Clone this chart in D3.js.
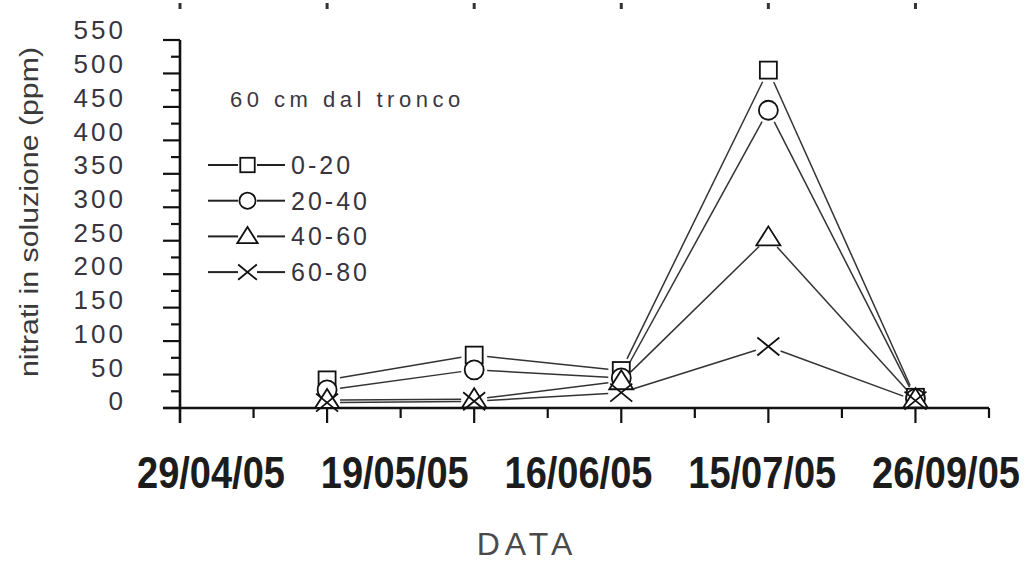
<!DOCTYPE html>
<html>
<head>
<meta charset="utf-8">
<script src="https://cdn.jsdelivr.net/npm/d3@7"></script>
<style>
  html, body { margin: 0; padding: 0; background: #fff; }
  svg { display: block; }
  text { font-family: "Liberation Sans", Arial, sans-serif; }
</style>
</head>
<body>
<div id="chart"></div>
<script>
// Sampling dates (axis labels)
const dates = ["29/04/05", "19/05/05", "16/06/05", "15/07/05", "26/09/05"];
// Sampling positions along the x axis (one per sample)
const samplePos = [1, 2, 3, 4, 5];
// Nitrate in soil solution (ppm) by depth layer (cm), 60 cm from the trunk
const depths = ["0-20", "20-40", "40-60", "60-80"];
const v0_20  = [42, 79, 56, 505, 16];
const v20_40 = [27, 57, 45, 445, 14];
const v40_60 = [12, 13, 40, 255, 13];
const v60_80 = [8, 10, 23, 92, 11];
const yTicks = [0, 50, 100, 150, 200, 250, 300, 350, 400, 450, 500, 550];
const legendTitle = "60 cm dal tronco";
const yTitle = "nitrati in soluzione (ppm)";
const xTitle = "DATA";

const series = [
  { name: depths[0], values: v0_20,  symbol: "square" },
  { name: depths[1], values: v20_40, symbol: "circle" },
  { name: depths[2], values: v40_60, symbol: "triangle" },
  { name: depths[3], values: v60_80, symbol: "cross" }
];

const W = 1028, H = 562;
const svg = d3.select("#chart").append("svg").attr("width", W).attr("height", H);

const x = d3.scaleLinear().domain([0, 5.5]).range([180, 989]);
const y = d3.scaleLinear().domain([0, 550]).range([408, 40]);
const yLab = d3.scaleLinear().domain([0, 550]).range([401, 30]);
const xLab = d3.scalePoint().domain(dates).range([211, 946]);

const ink = "#111";
const lineInk = "#333";

// stray tick marks along the top edge
svg.append("g").selectAll("line").data(d3.range(0, 6)).join("line")
  .attr("x1", d => x(d)).attr("x2", d => x(d))
  .attr("y1", 3).attr("y2", 9)
  .attr("stroke", "#333").attr("stroke-width", 3);

// y axis: line, major and minor ticks
const ax = svg.append("g");
ax.append("line").attr("x1", x(0)).attr("x2", x(0)).attr("y1", y(550)).attr("y2", 423)
  .attr("stroke", ink).attr("stroke-width", 2.6);
ax.selectAll(".ymaj").data(yTicks).join("line")
  .attr("x1", 163).attr("x2", x(0)).attr("y1", d => y(d)).attr("y2", d => y(d))
  .attr("stroke", ink).attr("stroke-width", 2.2);
ax.selectAll(".ymin").data(yTicks.slice(0, -1).map(d => d + 25)).join("line")
  .attr("x1", 171).attr("x2", x(0)).attr("y1", d => y(d)).attr("y2", d => y(d))
  .attr("stroke", ink).attr("stroke-width", 2.2);

// x axis: line, major and minor ticks
ax.append("line").attr("x1", 163).attr("x2", x(5.5)).attr("y1", y(0)).attr("y2", y(0))
  .attr("stroke", ink).attr("stroke-width", 2.6);
ax.selectAll(".xmaj").data(d3.range(1, 6)).join("line")
  .attr("x1", d => x(d)).attr("x2", d => x(d)).attr("y1", y(0)).attr("y2", 423)
  .attr("stroke", ink).attr("stroke-width", 2.2);
ax.selectAll(".xmin").data(d3.range(0.5, 6, 1)).join("line")
  .attr("x1", d => x(d)).attr("x2", d => x(d)).attr("y1", y(0)).attr("y2", 418)
  .attr("stroke", ink).attr("stroke-width", 2.2);

// y tick labels
svg.append("g").selectAll("text").data(yTicks).join("text")
  .attr("x", 126).attr("y", d => yLab(d)).attr("dy", "0.36em")
  .attr("text-anchor", "end")
  .attr("font-size", 26).attr("letter-spacing", 3)
  .attr("fill", "#38343f")
  .text(d => d);

// y title
svg.append("text")
  .attr("transform", "translate(38,212) rotate(-90)")
  .attr("text-anchor", "middle")
  .attr("font-size", 25)
  .attr("textLength", 330).attr("lengthAdjust", "spacingAndGlyphs")
  .attr("fill", "#3a3a3a")
  .text(yTitle);

// x date labels (tall, narrow lettering)
svg.append("g").selectAll("text").data(dates).join("text")
  .attr("transform", d => `translate(${xLab(d)},488) scale(1,1.16)`)
  .attr("text-anchor", "middle")
  .attr("font-size", 38).attr("font-weight", "bold")
  .attr("fill", "#1c1c1c")
  .text(d => d);

// x title
svg.append("text")
  .attr("x", 527).attr("y", 555)
  .attr("text-anchor", "middle")
  .attr("font-size", 32).attr("letter-spacing", 5)
  .attr("fill", "#4a4a4a")
  .text(xTitle);

// marker shapes
function drawSymbol(g, kind, cx, cy, k = 1) {
  const s = g.append("g").attr("transform", `translate(${cx},${cy}) scale(${k})`)
    .attr("fill", "#fff").attr("stroke", "#111").attr("stroke-width", 1.8 / k);
  if (kind === "square") {
    s.append("rect").attr("x", -8.5).attr("y", -8.5).attr("width", 17).attr("height", 17);
  } else if (kind === "circle") {
    s.append("circle").attr("r", 9.5);
  } else if (kind === "triangle") {
    s.append("path").attr("d", "M0,-11 L12,8 L-12,8 Z");
  } else {
    s.append("path").attr("d", "M-11,-9 L11,9 M-11,9 L11,-9").attr("fill", "none");
  }
}

// connecting lines, with a gap left around each marker
const gap = 13;
const plot = svg.append("g");
series.forEach(s => {
  const pts = s.values.map((v, i) => [x(samplePos[i]), y(v)]);
  for (let i = 0; i < pts.length - 1; i++) {
    const [x0, y0] = pts[i], [x1, y1] = pts[i + 1];
    const dx = x1 - x0, dy = y1 - y0, len = Math.hypot(dx, dy);
    const ux = dx / len, uy = dy / len;
    plot.append("line")
      .attr("x1", x0 + ux * gap).attr("y1", y0 + uy * gap)
      .attr("x2", x1 - ux * gap).attr("y2", y1 - uy * gap)
      .attr("stroke", lineInk).attr("stroke-width", 1.5);
  }
});
series.forEach(s => {
  s.values.forEach((v, i) => drawSymbol(plot, s.symbol, x(samplePos[i]), y(v)));
});

// legend
const lg = svg.append("g");
lg.append("text").attr("x", 230).attr("y", 107)
  .attr("font-size", 22).attr("letter-spacing", 4.5)
  .attr("fill", "#3a3742")
  .text(legendTitle);
series.forEach((s, i) => {
  const cy = 165 + i * 35.7;
  lg.append("line").attr("x1", 208).attr("x2", 238).attr("y1", cy).attr("y2", cy)
    .attr("stroke", "#222").attr("stroke-width", 2);
  lg.append("line").attr("x1", 257).attr("x2", 285).attr("y1", cy).attr("y2", cy)
    .attr("stroke", "#222").attr("stroke-width", 2);
  drawSymbol(lg, s.symbol, 247.5, cy, 0.85);
  lg.append("text").attr("x", 291).attr("y", cy + 9)
    .attr("font-size", 25).attr("letter-spacing", 3)
    .attr("fill", "#38343f")
    .text(s.name);
});
</script>
</body>
</html>
